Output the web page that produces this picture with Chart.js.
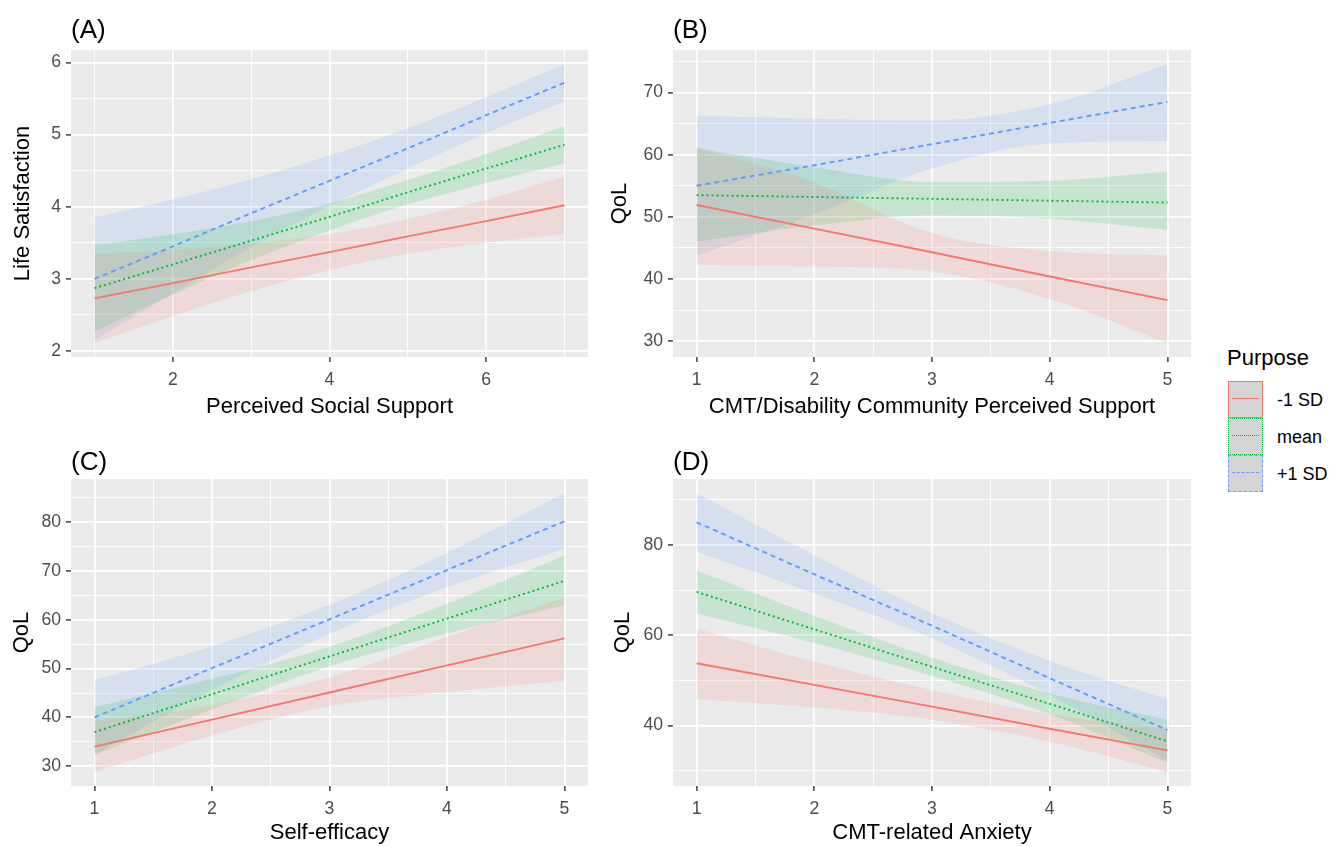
<!DOCTYPE html>
<html>
<head>
<meta charset="utf-8">
<script src="https://cdn.jsdelivr.net/npm/chart.js@4.4.1/dist/chart.umd.min.js"></script>
<style>
  body { margin: 0; background: #fff; width: 1330px; height: 846px; position: relative; overflow: hidden;
         font-family: "Liberation Sans", Arial, sans-serif; }
  .wrap { position: absolute; }
  .tag { position: absolute; font-size: 26px; line-height: 26px; color: #000; }
  .leg-title { position: absolute; left: 1227px; top: 346px; font-size: 22px; line-height: 24px; color: #000; }
  .key { position: absolute; left: 1228px; width: 35px; height: 37px; box-sizing: border-box;
         background: #d4d4d4; border-width: 1.5px; }
  .key i { position: absolute; left: 3px; right: 3px; top: 16px; border-top-width: 1.5px; }
  .leg-lab { position: absolute; left: 1277px; font-size: 18px; line-height: 20px; color: #000; }
</style>
</head>
<body>

<div class="wrap" style="left:0;top:0;width:600px;height:420px"><canvas id="panelA" width="600" height="420"></canvas></div>
<div class="wrap" style="left:600px;top:0;width:610px;height:420px"><canvas id="panelB" width="610" height="420"></canvas></div>
<div class="wrap" style="left:0;top:420px;width:600px;height:426px"><canvas id="panelC" width="600" height="426"></canvas></div>
<div class="wrap" style="left:600px;top:420px;width:610px;height:426px"><canvas id="panelD" width="610" height="426"></canvas></div>

<div class="tag" style="left:71px;top:16px">(A)</div>
<div class="tag" style="left:673px;top:16px">(B)</div>
<div class="tag" style="left:71px;top:448px">(C)</div>
<div class="tag" style="left:673px;top:448px">(D)</div>

<div class="leg-title">Purpose</div>
<div class="key" style="top:381px;border-style:solid;border-color:#F8766D"><i style="border-top-style:solid;border-top-color:#F8766D"></i></div>
<div class="key" style="top:418px;border-style:dotted;border-color:#00BA38"><i style="border-top-style:dotted;border-top-color:#00BA38"></i></div>
<div class="key" style="top:455px;border-style:dashed;border-color:#619CFF"><i style="border-top-style:dashed;border-top-color:#619CFF"></i></div>
<div class="leg-lab" style="top:390px">-1 SD</div>
<div class="leg-lab" style="top:427px">mean</div>
<div class="leg-lab" style="top:464px">+1 SD</div>

<script>
// ---- data ----
var groupNames = ['-1 SD', 'mean', '+1 SD'];

// (A) Life Satisfaction ~ Perceived Social Support
var aX = [1, 2, 3, 4, 5, 6, 7];
var aLowFit = [2.73, 2.94, 3.16, 3.37, 3.59, 3.80, 4.02];
var aLowHi  = [3.35, 3.40, 3.49, 3.62, 3.83, 4.10, 4.42];
var aLowLo  = [2.11, 2.48, 2.83, 3.12, 3.35, 3.50, 3.62];
var aMidFit = [2.87, 3.20, 3.53, 3.86, 4.20, 4.53, 4.86];
var aMidHi  = [3.47, 3.62, 3.80, 4.05, 4.37, 4.73, 5.12];
var aMidLo  = [2.27, 2.78, 3.26, 3.67, 4.03, 4.33, 4.60];
var aHighFit = [3.00, 3.45, 3.91, 4.36, 4.81, 5.27, 5.72];
var aHighHi  = [3.85, 4.10, 4.38, 4.71, 5.09, 5.52, 5.98];
var aHighLo  = [2.15, 2.80, 3.44, 4.01, 4.53, 5.02, 5.46];

// (B) QoL ~ CMT/Disability Community Perceived Support
var bX = [1, 2, 3, 4, 5];
var bLowFit = [51.9, 48.1, 44.3, 40.4, 36.6];
var bLowHi  = [61.3, 55.5, 47.4, 44.5, 43.8];
var bLowLo  = [42.3, 42.0, 41.2, 36.8, 29.7];
var bMidFit = [53.5, 53.2, 52.9, 52.6, 52.3];
var bMidHi  = [61.0, 58.0, 55.6, 55.8, 57.3];
var bMidLo  = [46.0, 48.6, 50.2, 49.7, 47.9];
var bHighFit = [55.0, 58.3, 61.7, 65.1, 68.5];
var bHighHi  = [66.3, 65.8, 65.5, 68.1, 74.6];
var bHighLo  = [43.8, 50.4, 57.8, 61.8, 62.2];

// (C) QoL ~ Self-efficacy
var cX = [1, 2, 3, 4, 5];
var cLowFit = [34.0, 39.55, 45.1, 50.65, 56.2];
var cLowHi  = [39.2, 42.6, 48.2, 56.5, 64.5];
var cLowLo  = [28.8, 36.3, 42.3, 45.2, 47.5];
var cMidFit = [37.0, 44.75, 52.5, 60.25, 68.0];
var cMidHi  = [42.1, 47.9, 54.5, 63.3, 73.2];
var cMidLo  = [32.3, 41.6, 50.5, 57.2, 63.0];
var cHighFit = [40.0, 50.1, 60.1, 70.2, 80.2];
var cHighHi  = [47.6, 54.6, 63.1, 73.7, 86.0];
var cHighLo  = [32.4, 45.6, 57.1, 66.7, 74.5];

// (D) QoL ~ CMT-related Anxiety
var dX = [1, 2, 3, 4, 5];
var dLowFit = [53.8, 49.0, 44.2, 39.3, 34.5];
var dLowHi  = [61.5, 54.1, 47.8, 42.5, 39.4];
var dLowLo  = [45.9, 44.0, 41.3, 36.4, 29.7];
var dMidFit = [69.6, 61.3, 53.0, 44.8, 36.5];
var dMidHi  = [74.4, 64.3, 55.0, 47.1, 41.3];
var dMidLo  = [64.8, 58.3, 51.0, 42.5, 31.7];
var dHighFit = [85.0, 73.5, 62.1, 50.5, 39.0];
var dHighHi  = [91.5, 77.7, 64.9, 54.3, 45.8];
var dHighLo  = [78.5, 69.3, 59.3, 46.7, 32.2];

// ---- styling ----
var lineColors = ['#F8766D', '#00BA38', '#619CFF'];
var bandColors = ['rgba(248,118,109,0.15)', 'rgba(0,186,56,0.15)', 'rgba(97,156,255,0.15)'];
var dashes = [[], [2, 3], [5, 4]];

Chart.defaults.font.family = '"Liberation Sans", Arial, sans-serif';

var panelBg = {
    id: 'panelBg',
    beforeDraw: function(chart) {
        var a = chart.chartArea, c = chart.ctx;
        c.save();
        c.fillStyle = '#EBEBEB';
        c.fillRect(a.left, a.top, a.right - a.left, a.bottom - a.top);
        c.restore();
    }
};

function pts(xs, ys) {
    return xs.map(function(x, i) { return {x: x, y: ys[i]}; });
}

function isMult(v, m) {
    return Math.abs(v / m - Math.round(v / m)) < 1e-6;
}

// ggplot-like axis range: data range plus 5% each side
function expand(lo, hi, f) {
    var d = (hi - lo) * f;
    return [lo - d, hi + d];
}

function makePanel(id, cfg) {
    var datasets = [];
    // fitted lines first so they are drawn on top
    cfg.fits.forEach(function(f, g) {
        datasets.push({
            label: groupNames[g], data: pts(cfg.x, f), order: 1,
            borderColor: lineColors[g], borderWidth: 1.9, borderDash: dashes[g],
            pointRadius: 0, fill: false, tension: 0
        });
    });
    // confidence ribbons: upper edge filled down to the lower edge
    cfg.bands.forEach(function(b, g) {
        datasets.push({
            data: pts(cfg.x, b[0]), order: 2, fill: '+1', cubicInterpolationMode: 'monotone',
            backgroundColor: bandColors[g], borderColor: 'rgba(0,0,0,0)', pointRadius: 0
        });
        datasets.push({
            data: pts(cfg.x, b[1]), order: 2, fill: false, cubicInterpolationMode: 'monotone',
            borderColor: 'rgba(0,0,0,0)', pointRadius: 0
        });
    });

    var allY = [];
    cfg.bands.forEach(function(b) { allY = allY.concat(b[0], b[1]); });
    var yr = expand(Math.min.apply(null, allY), Math.max.apply(null, allY), 0.05);
    var xr = expand(cfg.x[0], cfg.x[cfg.x.length - 1], 0.05);

    function gridOpts(major) {
        return {
            color: '#FFFFFF',
            lineWidth: function(ctx) { return ctx.tick && isMult(ctx.tick.value, major) ? 1.8 : 0.9; },
            tickColor: function(ctx) { return ctx.tick && isMult(ctx.tick.value, major) ? '#333333' : 'rgba(0,0,0,0)'; },
            tickWidth: 1.4,
            tickLength: 5,
            drawTicks: true
        };
    }

    return new Chart(document.getElementById(id).getContext('2d'), {
        type: 'line',
        data: {datasets: datasets},
        plugins: [panelBg],
        options: {
            responsive: false,
            animation: false,
            devicePixelRatio: 1,
            layout: {padding: cfg.pad},
            plugins: {legend: {display: false}, tooltip: {enabled: false}},
            scales: {
                x: {
                    type: 'linear', min: xr[0], max: xr[1],
                    border: {display: false},
                    grid: gridOpts(cfg.xMajor),
                    ticks: {
                        stepSize: cfg.xStep, includeBounds: false, autoSkip: false, maxRotation: 0,
                        color: '#4D4D4D', font: {size: 17.6}, padding: 8,
                        callback: function(v) { return isMult(v, cfg.xMajor) ? String(v) : ''; }
                    },
                    title: {display: true, text: cfg.xTitle, color: '#000', font: {size: 22},
                            padding: {top: 0, bottom: 0}},
                    afterFit: function(s) { s.height = cfg.xH; }
                },
                y: {
                    type: 'linear', min: yr[0], max: yr[1],
                    border: {display: false},
                    grid: gridOpts(cfg.yMajor),
                    ticks: {
                        stepSize: cfg.yStep, includeBounds: false, autoSkip: false,
                        color: '#4D4D4D', font: {size: 17.6}, padding: 5,
                        callback: function(v) { return isMult(v, cfg.yMajor) ? String(v) : ''; }
                    },
                    title: {display: true, text: cfg.yTitle, color: '#000', font: {size: 22},
                            padding: {top: cfg.yTitlePad, bottom: 0}},
                    afterFit: function(s) { s.width = cfg.yW; }
                }
            }
        }
    });
}

makePanel('panelA', {
    x: aX, fits: [aLowFit, aMidFit, aHighFit],
    bands: [[aLowHi, aLowLo], [aMidHi, aMidLo], [aHighHi, aHighLo]],
    xStep: 1, xMajor: 2, yStep: 0.5, yMajor: 1,
    xTitle: 'Perceived Social Support', yTitle: 'Life Satisfaction',
    pad: {top: 50, right: 12, left: 0, bottom: 0}, xH: 63, yW: 71, yTitlePad: 10
});

makePanel('panelB', {
    x: bX, fits: [bLowFit, bMidFit, bHighFit],
    bands: [[bLowHi, bLowLo], [bMidHi, bMidLo], [bHighHi, bHighLo]],
    xStep: 0.5, xMajor: 1, yStep: 5, yMajor: 10,
    xTitle: 'CMT/Disability Community Perceived Support', yTitle: 'QoL',
    pad: {top: 50, right: 19, left: 0, bottom: 0}, xH: 63, yW: 73, yTitlePad: 7
});

makePanel('panelC', {
    x: cX, fits: [cLowFit, cMidFit, cHighFit],
    bands: [[cLowHi, cLowLo], [cMidHi, cMidLo], [cHighHi, cHighLo]],
    xStep: 0.5, xMajor: 1, yStep: 5, yMajor: 10,
    xTitle: 'Self-efficacy', yTitle: 'QoL',
    pad: {top: 59, right: 12, left: 0, bottom: 0}, xH: 60, yW: 71, yTitlePad: 9
});

makePanel('panelD', {
    x: dX, fits: [dLowFit, dMidFit, dHighFit],
    bands: [[dLowHi, dLowLo], [dMidHi, dMidLo], [dHighHi, dHighLo]],
    xStep: 0.5, xMajor: 1, yStep: 10, yMajor: 20,
    xTitle: 'CMT-related Anxiety', yTitle: 'QoL',
    pad: {top: 59, right: 19, left: 0, bottom: 0}, xH: 60, yW: 73, yTitlePad: 10
});
</script>
</body>
</html>
